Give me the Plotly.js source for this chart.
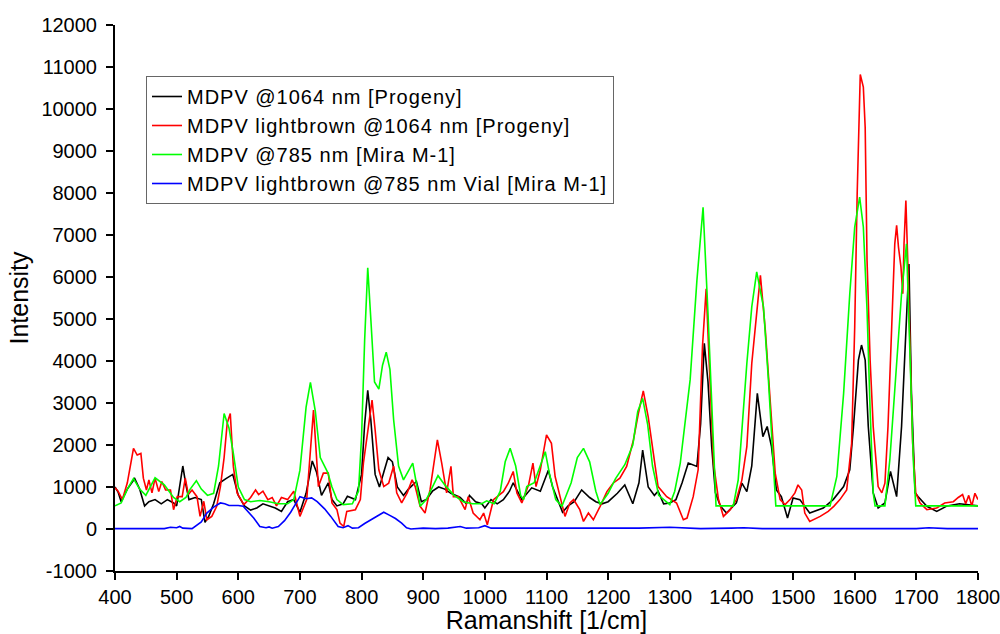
<!DOCTYPE html>
<html>
<head>
<meta charset="utf-8">
<script src="https://cdn.plot.ly/plotly-3.0.1.min.js"></script>
<style>html,body{margin:0;padding:0;background:#fff;}#chart{width:1000px;height:634px;}
.legendtext{letter-spacing:1px;}</style>
</head>
<body>
<div id="chart"></div>
<script>
// Series names
const seriesNames = [
  'MDPV @1064 nm [Progeny]',
  'MDPV lightbrown @1064 nm [Progeny]',
  'MDPV @785 nm [Mira M-1]',
  'MDPV lightbrown @785 nm Vial [Mira M-1]'
];

// Tick labels
const xTickVals = [400,500,600,700,800,900,1000,1100,1200,1300,1400,1500,1600,1700,1800];
const xTickText = ['400','500','600','700','800','900','1000','1100','1200','1300','1400','1500','1600','1700','1800'];
const yTickVals = [-1000,0,1000,2000,3000,4000,5000,6000,7000,8000,9000,10000,11000,12000];
const yTickText = ['-1000','0','1000','2000','3000','4000','5000','6000','7000','8000','9000','10000','11000','12000'];

// Black: MDPV @1064 nm [Progeny]
const blackX = [400,405,410,420,432,440,448,455,465,475,485,495,500,505,510,515,520,530,540,546,552,560,570,580,591,600,610,620,630,640,650,660,670,680,690,700,710,720,727,735,746,752,760,770,777,790,800,805,810,815,822,829,836,843,850,858,868,876,889,897,905,915,925,935,945,960,970,975,985,995,1000,1010,1020,1030,1040,1046,1060,1076,1090,1103,1110,1118,1126,1135,1145,1157,1170,1180,1190,1200,1215,1227,1240,1250,1256,1265,1275,1281,1290,1300,1310,1320,1330,1344,1350,1356,1362,1368,1374,1382,1392,1408,1417,1425,1433,1442,1451,1458,1465,1473,1481,1491,1500,1511,1527,1549,1565,1582,1592,1598,1606,1611,1617,1622,1630,1638,1649,1658,1668,1676,1683,1688,1692,1698,1703,1717,1733,1750,1770,1785,1800];
const blackY = [1000,880,650,950,1200,950,550,650,700,600,700,620,550,1000,1500,1050,700,750,700,160,300,600,1100,1200,1300,800,550,450,500,600,550,500,420,650,700,400,850,1620,1350,800,1100,700,550,600,780,700,1300,2500,3300,2600,1300,1000,1350,1700,1600,1000,800,950,1130,650,700,900,1000,950,850,750,600,800,650,600,500,700,600,700,900,1100,700,980,900,1400,1000,700,400,550,650,930,750,650,600,650,850,1050,600,1100,1880,1000,800,900,600,620,700,1100,1570,1490,2500,4420,3500,1960,860,550,380,620,1090,890,1500,3230,2200,2440,1960,930,770,260,740,700,380,500,700,1010,1410,2440,4020,4380,4020,2440,860,500,620,1370,770,2440,4810,6310,3230,860,770,540,420,550,600,580,550];

// Red: MDPV lightbrown @1064 nm [Progeny]
const redX = [400,405,412,420,430,436,442,446,451,455,460,465,471,476,482,490,495,501,509,514,519,525,533,538,544,549,557,565,571,577,582,587,592,598,609,620,628,633,640,648,655,662,670,680,690,700,711,716,722,730,738,746,752,760,765,771,776,790,798,803,810,817,822,828,836,844,852,857,865,874,882,887,895,903,911,923,930,938,945,949,957,968,973,981,992,998,1004,1014,1030,1038,1046,1052,1060,1071,1078,1083,1090,1100,1108,1114,1122,1130,1138,1144,1154,1160,1168,1176,1187,1198,1208,1219,1230,1241,1249,1257,1265,1273,1281,1295,1311,1322,1328,1338,1346,1353,1359,1364,1371,1379,1387,1398,1408,1417,1425,1433,1447,1455,1463,1471,1479,1487,1495,1503,1508,1514,1519,1527,1544,1557,1566,1576,1587,1595,1600,1604,1609,1614,1617,1620,1625,1630,1638,1644,1649,1654,1660,1665,1668,1671,1675,1678,1680,1683,1686,1690,1694,1699,1706,1717,1733,1746,1760,1768,1775,1780,1785,1790,1795,1800];
const redY = [980,900,700,1100,1920,1760,1800,1210,930,1170,860,1210,890,1130,930,930,460,770,770,1210,820,930,770,300,660,220,300,540,1010,1700,2520,2750,1490,860,580,750,930,820,900,700,750,550,750,700,900,300,700,1600,2830,1010,1330,1330,620,460,140,60,420,460,700,1570,2360,3070,2360,1410,1010,1090,1500,860,620,860,1170,1010,540,380,930,2120,1570,860,1490,770,770,460,770,380,220,380,100,700,890,1090,1370,860,620,1050,1570,1010,1410,2240,2040,1250,770,300,620,700,460,180,380,220,540,890,1090,1210,1490,2120,2750,3290,2670,1880,1010,770,620,220,260,770,1410,4340,5720,3940,1570,700,300,460,700,1170,1960,3940,6040,4730,3150,1330,700,580,700,860,1050,930,380,180,300,420,540,700,930,2040,4810,7980,10820,10520,9560,6400,4020,2440,1010,860,1090,2440,4810,6790,7230,6710,6240,5600,6790,7820,6400,4020,2040,860,620,460,500,620,650,750,820,600,800,550,850,700];

// Green: MDPV @785 nm [Mira M-1]
const greenX = [400,410,420,430,440,450,465,480,495,505,515,522,532,540,550,560,568,577,585,592,600,610,620,635,650,665,680,690,700,710,717,725,733,745,752,760,770,785,795,800,805,810,815,821,828,834,840,846,852,860,868,876,883,890,895,905,915,924,935,950,965,980,995,1003,1015,1025,1033,1041,1050,1058,1063,1068,1080,1090,1098,1105,1115,1125,1140,1150,1160,1170,1180,1187,1200,1212,1227,1240,1248,1256,1264,1272,1282,1300,1308,1317,1333,1344,1354,1362,1371,1375,1403,1411,1425,1433,1441,1452,1460,1468,1472,1560,1571,1582,1592,1600,1608,1614,1620,1625,1630,1633,1649,1657,1668,1676,1684,1690,1695,1699,1800];
const greenY = [550,620,950,1200,950,800,1220,1050,750,650,750,950,1150,950,800,850,1500,2750,2400,1800,1000,700,650,680,650,600,600,700,1400,2900,3490,2800,1700,1350,1000,700,580,600,900,2200,4500,6220,5000,3500,3330,3900,4210,3800,2600,1500,1170,1400,1570,1000,540,700,1000,1270,1050,800,650,600,600,670,600,900,1600,1920,1500,800,700,1010,1100,1500,1840,1300,700,540,1100,1700,1920,1600,900,580,850,1200,1530,2000,2800,3110,2500,1500,800,580,900,1570,3550,5920,7660,5130,1960,550,550,1170,3940,5290,6120,5290,3550,1570,550,550,1250,3230,5600,7190,7900,7190,5210,2830,860,550,550,1650,4020,5600,6790,4020,1650,550,550];

// Blue: MDPV lightbrown @785 nm Vial [Mira M-1]
const blueX = [400,420,440,460,480,490,500,505,510,525,530,540,549,560,571,578,585,600,608,618,625,635,645,650,655,665,675,685,695,700,710,719,728,740,750,762,770,778,785,795,805,815,825,836,845,855,865,873,880,900,920,940,960,970,990,1000,1010,1050,1100,1150,1200,1250,1300,1330,1350,1400,1420,1450,1500,1560,1600,1700,1720,1750,1800];
const blueY = [10,10,10,15,10,40,30,60,20,10,60,170,380,520,620,600,560,560,540,380,260,60,30,50,20,60,200,400,650,770,720,740,650,480,300,60,30,80,20,30,130,220,320,400,330,250,140,30,0,20,10,20,60,20,30,80,20,20,10,20,10,20,40,30,10,20,30,10,10,10,10,10,30,10,10];

const lineColors = ['#000000','#ff0000','#00ff00','#0000ff'];

const traces = [
  {x: blackX, y: blackY, name: seriesNames[0], line:{color: lineColors[0], width:1.6}},
  {x: redX, y: redY, name: seriesNames[1], line:{color: lineColors[1], width:1.6}},
  {x: greenX, y: greenY, name: seriesNames[2], line:{color: lineColors[2], width:1.6}},
  {x: blueX, y: blueY, name: seriesNames[3], line:{color: lineColors[3], width:1.6}}
].map(t => Object.assign({type:'scatter', mode:'lines'}, t));

const axisCommon = {
  ticks:'outside', ticklen:7, tickwidth:2, tickcolor:'#000',
  showline:true, linecolor:'#000', linewidth:2,
  showgrid:false, zeroline:false, mirror:false,
  tickmode:'array', ticklabeloverflow:'allow',
  tickfont:{size:20, color:'#000'}
};

const layout = {
  width:1000, height:634,
  margin:{l:115, r:22, t:25, b:63},
  paper_bgcolor:'#ffffff', plot_bgcolor:'#ffffff',
  font:{family:'"Liberation Sans", Arial, sans-serif', color:'#000', size:20},
  showlegend:true,
  xaxis: Object.assign({}, axisCommon, {
    range:[400,1800], tickvals:xTickVals, ticktext:xTickText, ticklabelstandoff:0,
    title:{text:'Ramanshift [1/cm]', font:{size:25}, standoff:0}
  }),
  yaxis: Object.assign({}, axisCommon, {
    range:[-1000,12000], tickvals:yTickVals, ticktext:yTickText, ticklabelstandoff:5,
    title:{text:'Intensity', font:{size:25}, standoff:6}
  }),
  legend:{
    x:0.0359, y:0.9066, xanchor:'left', yanchor:'top',
    bgcolor:'#ffffff', bordercolor:'#666666', borderwidth:1,
    font:{size:20, color:'#000'}, itemwidth:30, tracegroupgap:0
  }
};

Plotly.newPlot('chart', traces, layout, {displayModeBar:false, staticPlot:true});
</script>
</body>
</html>
